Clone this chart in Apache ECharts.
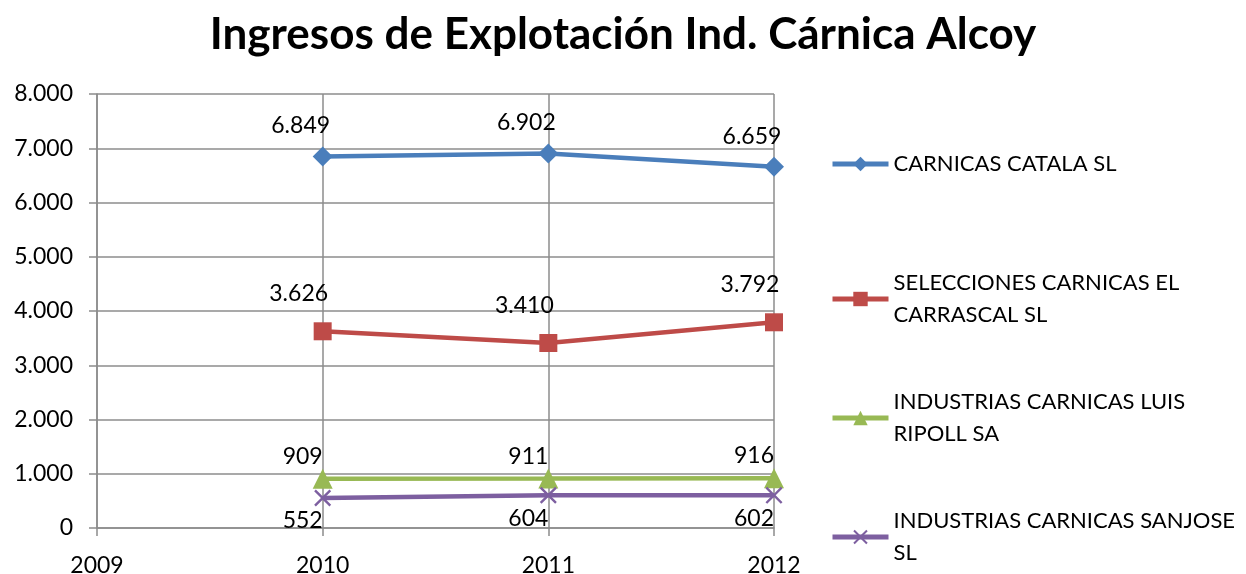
<!DOCTYPE html>
<html>
<head>
<meta charset="utf-8">
<script src="https://cdn.jsdelivr.net/npm/echarts@6/dist/echarts.min.js"></script>
<style>
html,body{margin:0;padding:0;background:#fff;}
#chart{width:1246px;height:574px;}
</style>
</head>
<body>
<div id="chart"></div>
<script>
// datos
var years = [2010, 2011, 2012];
var catala = [6849, 6902, 6659];
var carrascal = [3626, 3410, 3792];
var ripoll = [909, 911, 916];
var sanjose = [552, 604, 602];
var names = ['CARNICAS CATALA SL', 'SELECCIONES CARNICAS EL CARRASCAL SL', 'INDUSTRIAS CARNICAS LUIS RIPOLL SA', 'INDUSTRIAS CARNICAS SANJOSE SL'];
var legendText = {
    'CARNICAS CATALA SL': 'CARNICAS CATALA SL',
    'SELECCIONES CARNICAS EL CARRASCAL SL': 'SELECCIONES CARNICAS EL\nCARRASCAL SL',
    'INDUSTRIAS CARNICAS LUIS RIPOLL SA': 'INDUSTRIAS CARNICAS LUIS\nRIPOLL SA',
    'INDUSTRIAS CARNICAS SANJOSE SL': 'INDUSTRIAS CARNICAS SANJOSE\nSL'
};

var font = 'Lato, "Open Sans", sans-serif';
var gridColor = '#8c8c8c';

function fmt(v) {
    return String(v).replace(/\B(?=(\d{3})+(?!\d))/g, '.');
}
function pairs(vals) {
    return years.map(function (y, i) { return [y, vals[i]]; });
}
var crossPath = 'path://M0,1 L1,0 L5,4 L9,0 L10,1 L6,5 L10,9 L9,10 L5,6 L1,10 L0,9 L4,5 Z';

function makeSeries(name, vals, color, symbol, size, labelPos, offset) {
    return {
        name: name,
        type: 'line',
        data: pairs(vals),
        symbol: symbol,
        symbolSize: size,
        lineStyle: { width: 4.5, color: color },
        itemStyle: { color: color },
        label: {
            show: true,
            position: labelPos,
            offset: offset,
            color: '#000',
            fontSize: 23,
            fontFamily: font,
            formatter: function (p) { return fmt(p.value[1]); }
        }
    };
}

function makeLegend(name, top) {
    return {
        data: [name],
        orient: 'vertical',
        left: 830,
        top: top,
        padding: 0,
        itemWidth: 56,
        itemHeight: 18,
        itemGap: 0,
        lineStyle: { width: 5 },
        textStyle: { fontSize: 22, fontFamily: font, color: '#000', lineHeight: 32 },
        formatter: function (n) { return legendText[n]; }
    };
}

var chart = echarts.init(document.getElementById('chart'));
var option = {
    backgroundColor: '#fff',
    animation: false,
    title: {
        text: 'Ingresos de Explotación Ind. Cárnica Alcoy',
        left: 'center',
        top: 8,
        textStyle: { fontSize: 44, fontWeight: 'bold', fontFamily: font, color: '#000' }
    },
    legend: [
        makeLegend(names[0], 148),
        makeLegend(names[1], 267),
        makeLegend(names[2], 386),
        makeLegend(names[3], 505)
    ],
    grid: { left: 97, right: 472, top: 94, bottom: 46, outerBoundsMode: 'none' },
    xAxis: {
        type: 'value',
        min: 2009,
        max: 2012,
        interval: 1,
        axisLine: { show: true, lineStyle: { color: gridColor, width: 1.5 } },
        axisTick: { show: true, length: 8, lineStyle: { color: gridColor, width: 1.5 } },
        splitLine: { show: true, lineStyle: { color: gridColor, width: 1.5 } },
        axisLabel: { fontSize: 23, fontFamily: font, color: '#000', margin: 26, formatter: function (v) { return String(v); } }
    },
    yAxis: {
        type: 'value',
        min: 0,
        max: 8000,
        interval: 1000,
        axisLine: { show: true, lineStyle: { color: gridColor, width: 1.5 } },
        axisTick: { show: true, length: 8, lineStyle: { color: gridColor, width: 1.5 } },
        splitLine: { show: true, lineStyle: { color: gridColor, width: 1.5 } },
        axisLabel: { fontSize: 23, fontFamily: font, color: '#000', margin: 24, formatter: fmt }
    },
    series: [
        makeSeries(names[0], catala, '#4a7ebb', 'diamond', 20, 'top', [-22, -4]),
        makeSeries(names[1], carrascal, '#be4b48', 'rect', 18, 'top', [-24, -12]),
        makeSeries(names[2], ripoll, '#98b954', 'triangle', 20, 'top', [-20, 4]),
        makeSeries(names[3], sanjose, '#7d5fa0', crossPath, 17, 'bottom', [-20, -2])
    ]
};
chart.setOption(option);
</script>
</body>
</html>
